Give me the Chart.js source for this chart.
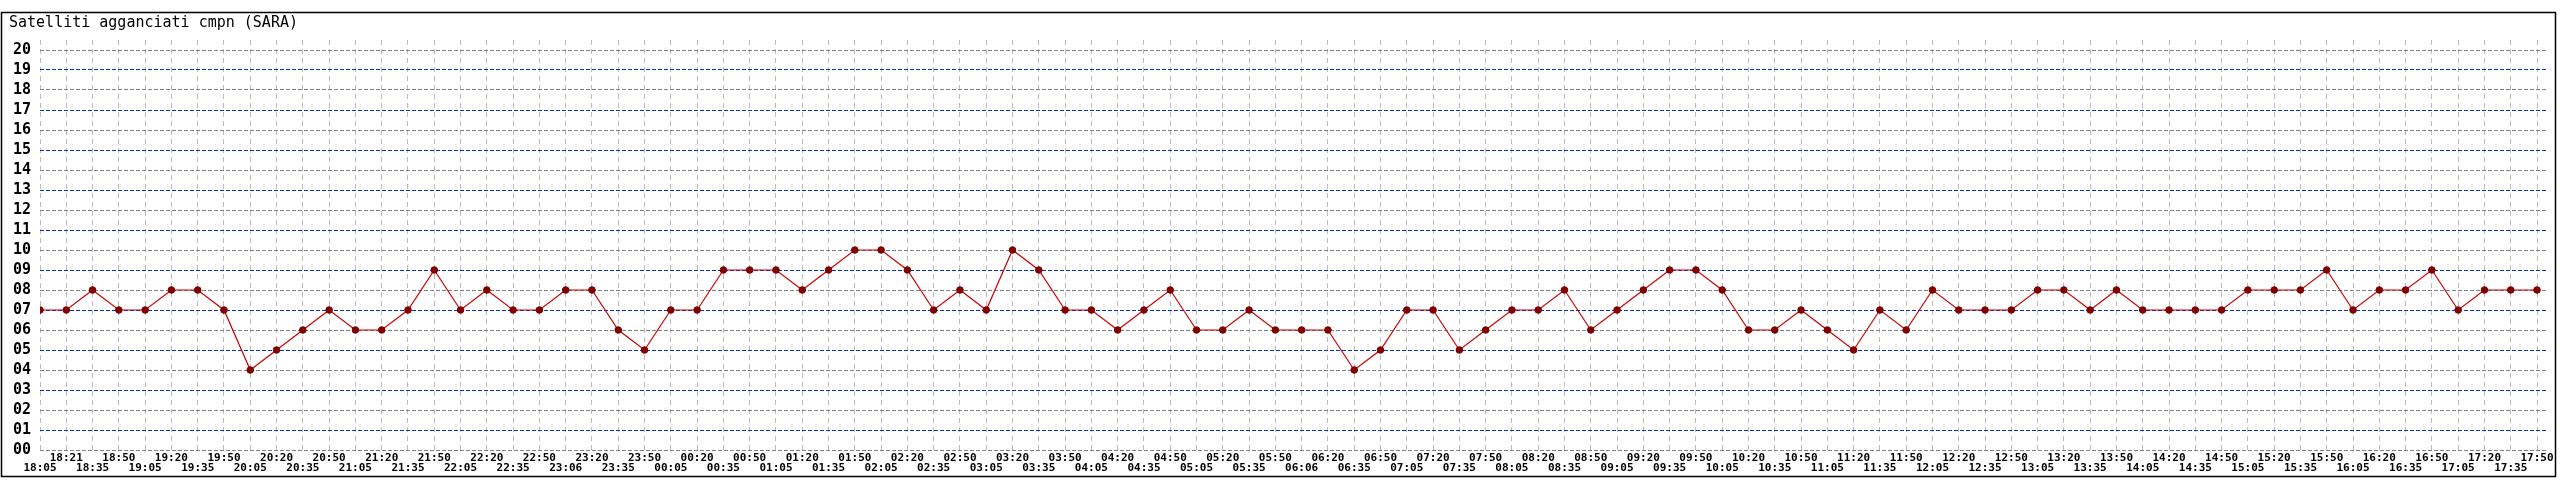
<!DOCTYPE html>
<html>
<head>
<meta charset="utf-8">
<script src="https://cdn.jsdelivr.net/npm/chart.js@4/dist/chart.umd.min.js"></script>
<style>
  html, body { margin: 0; padding: 0; background: #fff; }
  #wrap { width: 2560px; height: 480px; }
</style>
</head>
<body>
<div id="wrap"><canvas id="satChart" width="2560" height="480"></canvas></div>
<script>
// Satelliti agganciati - one sample every 15 min
const times = [
    '18:05', '18:21', '18:35', '18:50', '19:05', '19:20', '19:35', '19:50',
    '20:05', '20:20', '20:35', '20:50', '21:05', '21:20', '21:35', '21:50',
    '22:05', '22:20', '22:35', '22:50', '23:06', '23:20', '23:35', '23:50',
    '00:05', '00:20', '00:35', '00:50', '01:05', '01:20', '01:35', '01:50',
    '02:05', '02:20', '02:35', '02:50', '03:05', '03:20', '03:35', '03:50',
    '04:05', '04:20', '04:35', '04:50', '05:05', '05:20', '05:35', '05:50',
    '06:06', '06:20', '06:35', '06:50', '07:05', '07:20', '07:35', '07:50',
    '08:05', '08:20', '08:35', '08:50', '09:05', '09:20', '09:35', '09:50',
    '10:05', '10:20', '10:35', '10:50', '11:05', '11:20', '11:35', '11:50',
    '12:05', '12:20', '12:35', '12:50', '13:05', '13:20', '13:35', '13:50',
    '14:05', '14:20', '14:35', '14:50', '15:05', '15:20', '15:35', '15:50',
    '16:05', '16:20', '16:35', '16:50', '17:05', '17:20', '17:35', '17:50'
];
const satellites = [
    7, 7, 8, 7, 7, 8, 8, 7, 4, 5,
    6, 7, 6, 6, 7, 9, 7, 8, 7, 7,
    8, 8, 6, 5, 7, 7, 9, 9, 9, 8,
    9, 10, 10, 9, 7, 8, 7, 10, 9, 7,
    7, 6, 7, 8, 6, 6, 7, 6, 6, 6,
    4, 5, 7, 7, 5, 6, 7, 7, 8, 6,
    7, 8, 9, 9, 8, 6, 6, 7, 6, 5,
    7, 6, 8, 7, 7, 7, 8, 8, 7, 8,
    7, 7, 7, 7, 8, 8, 8, 9, 7, 8,
    8, 9, 7, 8, 8, 8
];
const yTicks = [0, 1, 2, 3, 4, 5, 6, 7, 8, 9, 10, 11, 12, 13, 14, 15, 16, 17, 18, 19, 20];

// frame round the whole picture
const framePlugin = {
    id: 'frame',
    beforeDraw(chart) {
        const c = chart.ctx;
        c.save();
        c.fillStyle = '#fff';
        c.fillRect(0, 0, chart.width, chart.height);
        c.strokeStyle = '#000';
        c.lineWidth = 1.5;
        c.strokeRect(1.5, 12.5, 2554, 464);
        c.restore();
    }
};

const ctx = document.getElementById('satChart').getContext('2d');
new Chart(ctx, {
    type: 'line',
    data: {
        datasets: [{
            data: satellites.map((v, i) => ({ x: i, y: v })),
            borderColor: '#cc0000',
            borderWidth: 1.2,
            pointBackgroundColor: '#800000',
            pointBorderColor: '#800000',
            pointRadius: 3.3,
            pointBorderWidth: 1,
            tension: 0
        }]
    },
    options: {
        responsive: false,
        animation: false,
        events: [],
        layout: {
            padding: { left: 9, right: 13, top: 12, bottom: 0 }
        },
        plugins: {
            legend: { display: false },
            tooltip: { enabled: false },
            title: {
                display: true,
                text: 'Satelliti agganciati cmpn (SARA)',
                align: 'start',
                color: '#000',
                font: { family: 'DejaVu Sans Mono', size: 15, weight: 'normal', lineHeight: '17px' },
                padding: { top: 3, bottom: 8 }
            }
        },
        scales: {
            x: {
                type: 'linear',
                min: 0,
                max: times.length - 1 + 0.38,
                afterBuildTicks: (scale) => {
                    scale.ticks = times.map((t, i) => ({ value: i }));
                },
                afterFit: (scale) => { scale.height = 28; },
                grid: {
                    color: '#bcbcbc',
                    lineWidth: 1,
                    drawTicks: false
                },
                border: { display: false, dash: [5, 4] },
                ticks: {
                    autoSkip: false,
                    maxRotation: 0,
                    minRotation: 0,
                    padding: 1,
                    color: '#000',
                    font: { family: 'DejaVu Sans Mono', size: 11, weight: 'bold', lineHeight: '10px' },
                    callback: (value) => {
                        const t = times[value];
                        return value % 2 === 0 ? ['', t] : [t, ''];
                    }
                }
            },
            y: {
                min: -0.1,
                max: 20.5,
                afterBuildTicks: (scale) => {
                    scale.ticks = yTicks.map(v => ({ value: v }));
                },
                afterFit: (scale) => { scale.width = 31; },
                grid: {
                    color: (c) => (c.tick && c.tick.value % 2 === 1) ? '#0033cc' : '#808080',
                    lineWidth: 1,
                    drawTicks: false
                },
                border: { display: false, dash: [4, 2] },
                ticks: {
                    autoSkip: false,
                    padding: 9,
                    color: '#000',
                    font: { family: 'DejaVu Sans Mono', size: 15, weight: 'bold', lineHeight: '16px' },
                    callback: (value) => String(value).padStart(2, '0')
                }
            }
        }
    },
    plugins: [framePlugin]
});
</script>
</body>
</html>
